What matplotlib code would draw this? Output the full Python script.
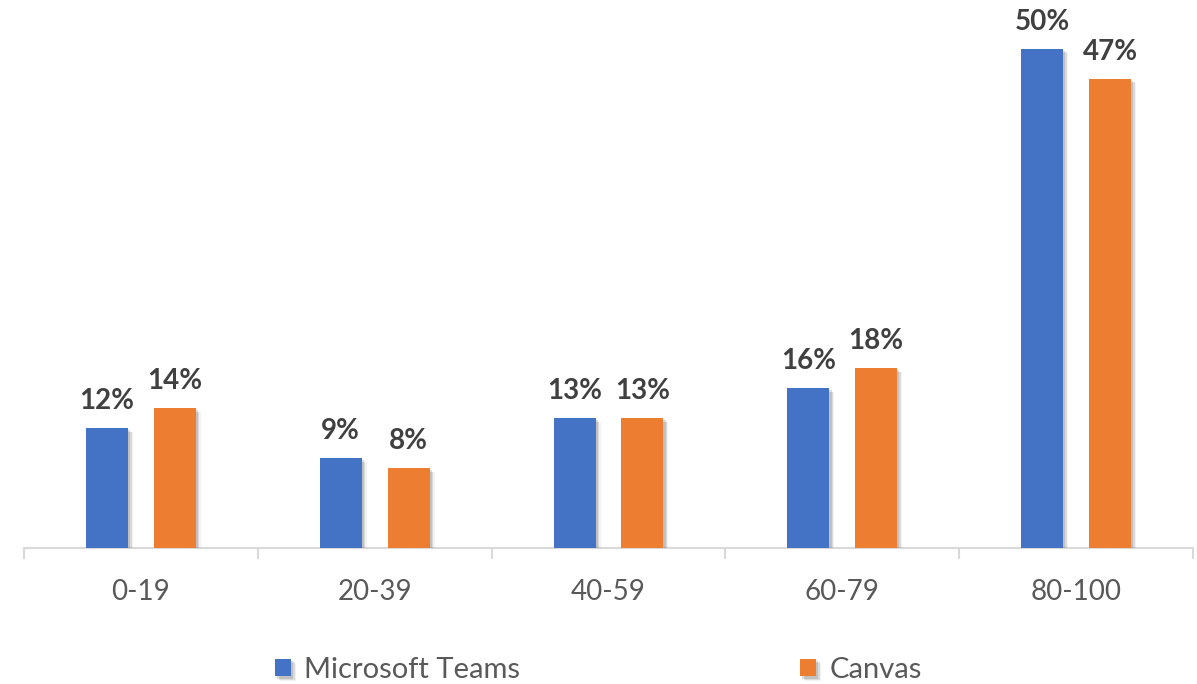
import matplotlib.pyplot as plt
import matplotlib.patheffects as pe
import numpy as np

categories = ["0-19", "20-39", "40-59", "60-79", "80-100"]
teams = [12, 9, 13, 16, 50]
canvas = [14, 8, 13, 18, 47]
series_names = ["Microsoft Teams", "Canvas"]

plt.rcParams['font.family'] = ['Lato', 'DejaVu Sans']

fig = plt.figure(figsize=(11.97, 6.84), dpi=100)
ax = fig.add_axes([24 / 1197, 136 / 684, 1169 / 1197, 548 / 684])

x = np.arange(len(categories))
w = 0.18
off = 0.145

# soft drop shadow like the office chart
shadow = [pe.SimplePatchShadow(offset=(1.5, -1.5), shadow_rgbFace='0.45', alpha=0.25),
          pe.SimplePatchShadow(offset=(2.5, -2.5), shadow_rgbFace='0.45', alpha=0.18),
          pe.SimplePatchShadow(offset=(3.5, -3.0), shadow_rgbFace='0.5', alpha=0.10),
          pe.Normal()]

b1 = ax.bar(x - off, teams, w, color='#4472c4', label=series_names[0], zorder=3)
b2 = ax.bar(x + off, canvas, w, color='#ed7d31', label=series_names[1], zorder=3)
for bars in (b1, b2):
    for r in bars:
        r.set_path_effects(shadow)
    ax.bar_label(bars, labels=[f"{v}%" for v in bars.datavalues], padding=10,
                 fontsize=20, fontweight='bold', color='#404040')

ax.set_xlim(-0.5, len(categories) - 0.5)
ax.set_ylim(0, 54.9)
ax.set_yticks([])
for s in ['top', 'right', 'left']:
    ax.spines[s].set_visible(False)
ax.spines['bottom'].set_color('#d9d9d9')
ax.spines['bottom'].set_linewidth(1.5)

ax.set_xticks(x)
ax.set_xticklabels(categories, fontsize=20, color='#595959')
ax.tick_params(axis='x', which='major', length=0, pad=22)
ax.set_xticks(np.arange(len(categories) + 1) - 0.5, minor=True)
ax.tick_params(axis='x', which='minor', length=8, width=1.5, color='#d9d9d9')

fig.legend(handles=[b1, b2], labels=series_names, loc='center',
           bbox_to_anchor=(0.5, 14 / 684), ncol=2, frameon=False,
           fontsize=21, labelcolor='#595959', handlelength=0.55, handleheight=0.55,
           handletextpad=0.45, columnspacing=9.6)

fig.savefig('out.png', dpi=100)
